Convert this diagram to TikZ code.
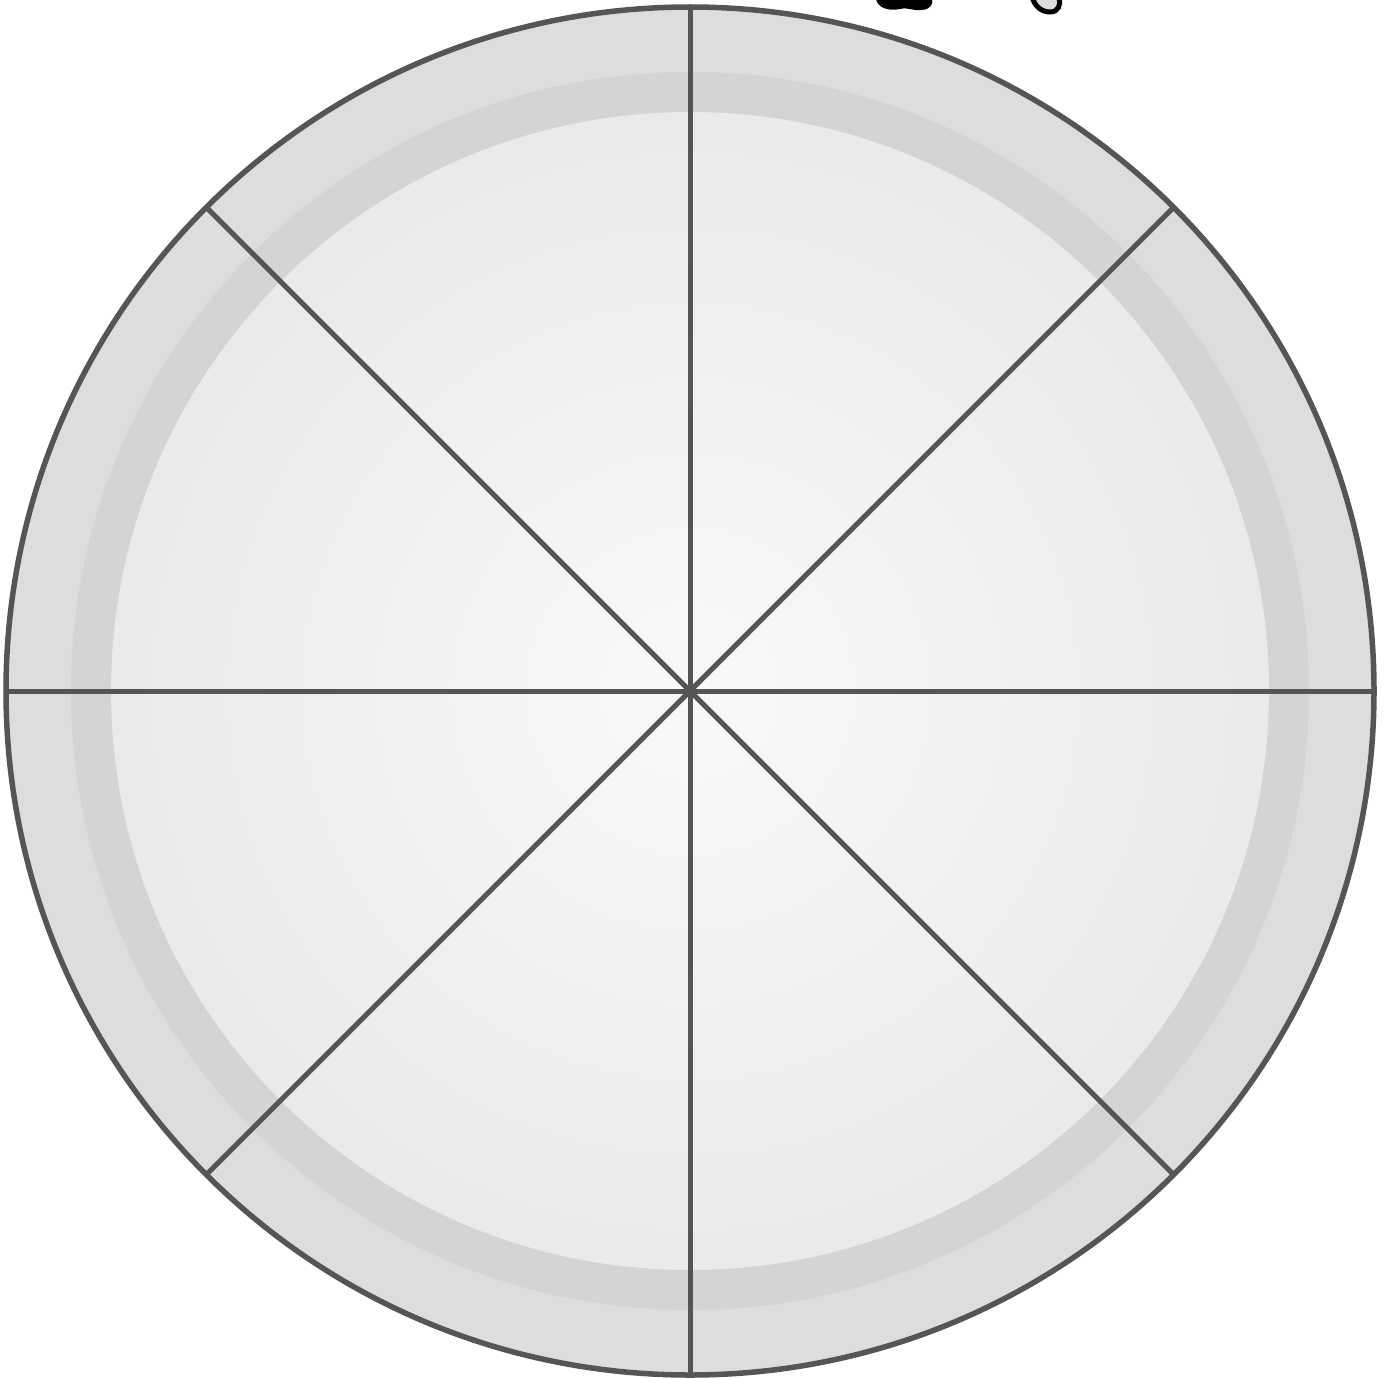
\documentclass[tikz,border=0pt]{standalone}
\usetikzlibrary{calc}
\begin{document}
\definecolor{platefill}{HTML}{DCDDDF}
\definecolor{bandfill}{HTML}{D3D4D6}
\definecolor{edgeline}{HTML}{555555}
\definecolor{centerfill}{HTML}{F9F9F9}
\definecolor{innerfill}{HTML}{D9DADD}
\pgfdeclareradialshading{plateshade}{\pgfpoint{0bp}{0bp}}{color(0bp)=(centerfill);color(50bp)=(innerfill)}
\begin{tikzpicture}[x=1pt,y=-1pt,
  cut/.style={draw=edgeline,line width=5pt},
  rim/.style={draw=edgeline,line width=5.5pt}]
\useasboundingbox (0,0) rectangle (1387,1378);
\coordinate (c) at (690,691);
\fill[platefill] (c) circle (684);
\fill[bandfill] (c) circle (619);
\shade[shading=plateshade] (c) circle (579);
\foreach \a in {0,45,...,315}{
  \coordinate (e\a) at ($(c)+(\a:684)$);
}
\foreach \a in {0,45,...,315}{
  \draw[cut] (c) -- (e\a);
}
\draw[rim] (c) circle (684);
% fragment at top edge
\fill[black] (876,-1) .. controls (878,9) and (890,11) .. (900,9) .. controls (908,7) and (912,11) .. (922,10) .. controls (932,9) and (933,3) .. (932,-1) -- cycle;
\filldraw[fill=platefill,draw=black,line width=5pt] (1032,-3) .. controls (1035,7) and (1042,12) .. (1050,12) .. controls (1059,12) and (1061,4) .. (1059,-3);
\end{tikzpicture}
\end{document}
